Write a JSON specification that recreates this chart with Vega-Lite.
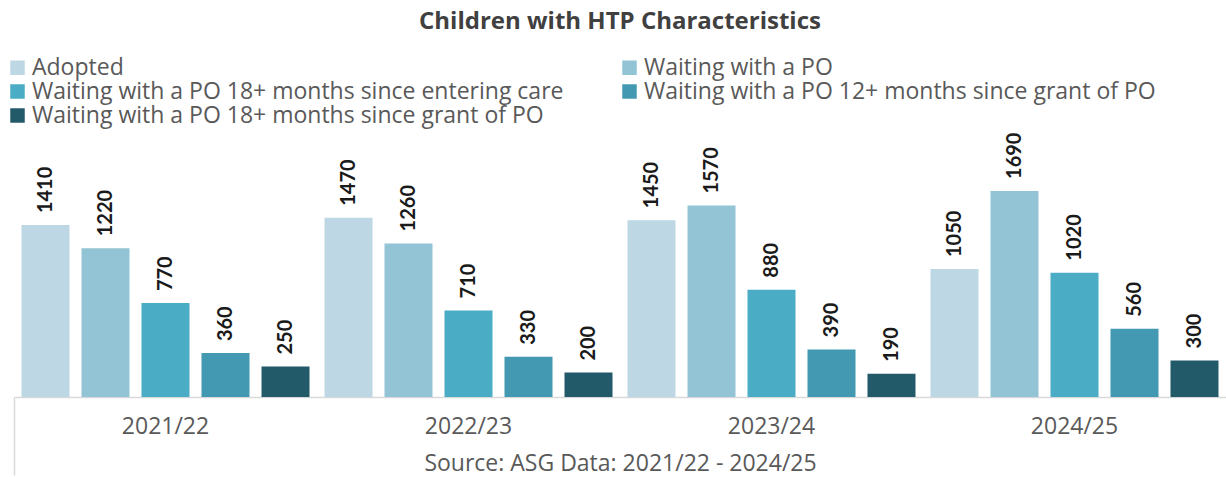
{
  "$schema": "https://vega.github.io/schema/vega-lite/v6.json",
  "width": 1212,
  "height": 267,
  "padding": {"left": 6, "top": 10, "right": 0, "bottom": 0},
  "title": {"text": "Children with HTP Characteristics", "fontSize": 24, "font": "Open Sans", "fontWeight": "bold", "color": "#404040", "anchor": "middle", "offset": 22},
  "data": {"values": [
    {"year": "2021/22", "series": "Adopted", "value": 1410},
    {"year": "2021/22", "series": "Waiting with a PO", "value": 1220},
    {"year": "2021/22", "series": "Waiting with a PO 18+ months since entering care", "value": 770},
    {"year": "2021/22", "series": "Waiting with a PO 12+ months since grant of PO", "value": 360},
    {"year": "2021/22", "series": "Waiting with a PO 18+ months since grant of PO", "value": 250},
    {"year": "2022/23", "series": "Adopted", "value": 1470},
    {"year": "2022/23", "series": "Waiting with a PO", "value": 1260},
    {"year": "2022/23", "series": "Waiting with a PO 18+ months since entering care", "value": 710},
    {"year": "2022/23", "series": "Waiting with a PO 12+ months since grant of PO", "value": 330},
    {"year": "2022/23", "series": "Waiting with a PO 18+ months since grant of PO", "value": 200},
    {"year": "2023/24", "series": "Adopted", "value": 1450},
    {"year": "2023/24", "series": "Waiting with a PO", "value": 1570},
    {"year": "2023/24", "series": "Waiting with a PO 18+ months since entering care", "value": 880},
    {"year": "2023/24", "series": "Waiting with a PO 12+ months since grant of PO", "value": 390},
    {"year": "2023/24", "series": "Waiting with a PO 18+ months since grant of PO", "value": 190},
    {"year": "2024/25", "series": "Adopted", "value": 1050},
    {"year": "2024/25", "series": "Waiting with a PO", "value": 1690},
    {"year": "2024/25", "series": "Waiting with a PO 18+ months since entering care", "value": 1020},
    {"year": "2024/25", "series": "Waiting with a PO 12+ months since grant of PO", "value": 560},
    {"year": "2024/25", "series": "Waiting with a PO 18+ months since grant of PO", "value": 300}
  ]},
  "encoding": {
    "x": {
      "field": "year", "type": "nominal", "sort": null,
      "scale": {"paddingInner": 0, "paddingOuter": 0},
      "title": "Source: ASG Data: 2021/22 - 2024/25",
      "axis": {
        "labelAngle": 0, "ticks": true, "bandPosition": 0, "tickSize": 78, "tickWidth": 1.5,
        "tickColor": {"condition": {"test": "datum.value == '2021/22'", "value": "#d9d9d9"}, "value": "rgba(0,0,0,0)"},
        "domainColor": "#d9d9d9", "domainWidth": 1.5,
        "labelFont": "Open Sans", "labelFontSize": 23, "labelColor": "#595959", "labelPadding": -60, "labelBaseline": "top",
        "titleFont": "Open Sans", "titleFontSize": 23, "titleFontWeight": "normal", "titleColor": "#595959", "titleBaseline": "middle", "titleY": 66
      }
    },
    "xOffset": {
      "field": "series", "type": "nominal",
      "sort": ["Adopted", "Waiting with a PO", "Waiting with a PO 18+ months since entering care", "Waiting with a PO 12+ months since grant of PO", "Waiting with a PO 18+ months since grant of PO"],
      "scale": {"paddingInner": 0.2, "paddingOuter": 0.125}
    },
    "y": {"field": "value", "type": "quantitative", "scale": {"domain": [0, 2190]}, "axis": null}
  },
  "layer": [
    {
      "mark": {"type": "bar"},
      "encoding": {
        "color": {
          "field": "series", "type": "nominal",
          "sort": ["Adopted", "Waiting with a PO", "Waiting with a PO 18+ months since entering care", "Waiting with a PO 12+ months since grant of PO", "Waiting with a PO 18+ months since grant of PO"],
          "scale": {"domain": ["Adopted", "Waiting with a PO", "Waiting with a PO 18+ months since entering care", "Waiting with a PO 12+ months since grant of PO", "Waiting with a PO 18+ months since grant of PO"], "range": ["#BDD7E4", "#92C4D5", "#4BACC6", "#4399B1", "#225A6A"]},
          "legend": {"orient": "none", "direction": "horizontal", "legendX": -8, "legendY": -74, "title": null, "columns": 2, "symbolType": "square", "symbolSize": 210, "symbolStrokeWidth": 0, "labelFont": "Open Sans", "labelFontSize": 23, "labelColor": "#595959", "labelLimit": 800, "labelOffset": 3, "rowPadding": 0, "columnPadding": 54, "padding": 0}
        }
      }
    },
    {
      "mark": {"type": "text", "angle": -90, "align": "left", "baseline": "middle", "dx": 12, "fontWeight": "bold", "fontSize": 20, "color": "#1a1a1a"},
      "encoding": {"text": {"field": "value", "type": "quantitative"}}
    }
  ],
  "config": {"view": {"stroke": null}, "font": "Lato"}
}
